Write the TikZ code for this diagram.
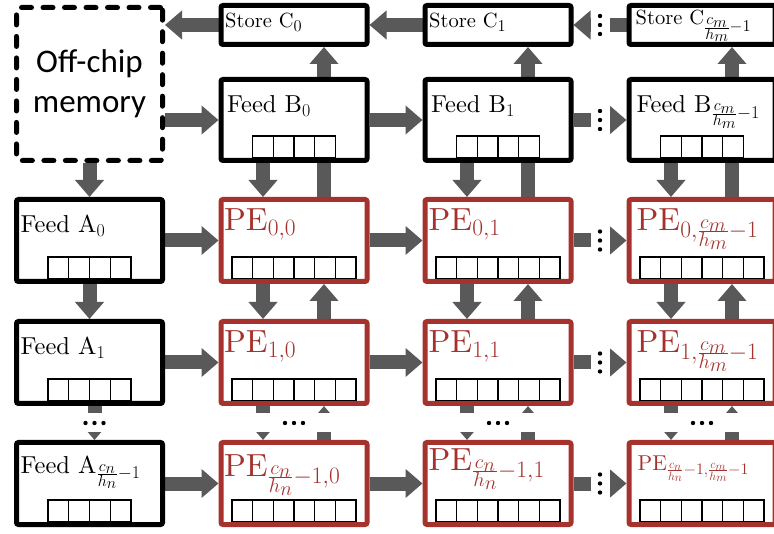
\RequirePackage{fix-cm}
\documentclass[tikz,border=0pt]{standalone}
\usepackage{fontspec}
\setmainfont{lmroman10-regular.otf}
\newfontfamily\chipfont{Carlito}
\usetikzlibrary{arrows.meta,backgrounds,calc}

\definecolor{flowgray}{RGB}{89,89,89}
\definecolor{pered}{RGB}{166,50,46}

\DeclareMathSizes{20.5}{20.5}{16.5}{16}
\DeclareMathSizes{24.5}{24.5}{18}{16}
\DeclareMathSizes{32}{32}{23.5}{20}
\DeclareMathSizes{21.5}{21.5}{16}{12}
\newcommand{\storefont}{\fontsize{20.5}{24}\selectfont}
\newcommand{\feedfont}{\fontsize{24.5}{29}\selectfont}
\newcommand{\pefont}{\fontsize{32}{38}\selectfont}
\newcommand{\lastm}{\frac{c_m}{h_m}-1}
\newcommand{\lastn}{\frac{c_n}{h_n}-1}

% row of register cells above the bottom of a box
\newcommand{\regcells}[2]{%
  \foreach \k in {1,...,#2}
    \draw[regline] ([xshift={(\k-1-#2/2)*20.7pt},yshift=5.5pt]#1.south) rectangle ++(20.7pt,21.5pt);
}

\tikzset{
  unit/.style={draw=black, line width=5pt, fill=white, rounded corners=2pt,
    minimum width=146pt, inner sep=0pt},
  peunit/.style={unit, draw=pered},
  memunit/.style={unit, dash pattern=on 10pt off 11.5pt, line cap=round},
  flow/.style={draw=flowgray, line width=14pt, -{Triangle[length=17pt,width=28pt]}},
  gapband/.style={fill=white, inner sep=0pt},
  lbl/.style={anchor=base west, inner sep=0pt},
  regline/.style={line width=1.3pt},
}

\begin{document}
\begin{tikzpicture}[x=1pt,y=-1pt]
\useasboundingbox (0,0) rectangle (774,534);
\clip (0,0) rectangle (774,534);

% memory
\node[memunit, minimum height=153pt, align=center,
  font={\chipfont\fontsize{33}{40}\selectfont}] (mem) at (89.5,84) {Off-chip\\memory};

% store C and feed B rows
\foreach \c/\x in {0/294,1/498,2/702}{
  \node[unit, minimum height=39pt] (C\c) at (\x,25) {};
  \node[unit, minimum height=81pt] (B\c) at (\x,120) {};
}
% feed A column and PE grid
\foreach \r/\y in {0/240.5,1/362.5,2/483.5}{
  \node[unit, minimum height=82pt] (A\r) at (89.5,\y) {};
  \foreach \c/\x in {0/294,1/498,2/702}
    \node[peunit, minimum height=82pt] (P\r\c) at (\x,\y) {};
}

% labels
\node[lbl, font=\storefont] (tC0) at ([xshift=6.5pt,yshift=-24.5pt]C0.north west) {Store C$_0$};
\node[lbl, font=\storefont] (tC1) at ([xshift=6.5pt,yshift=-24.5pt]C1.north west) {Store C$_1$};
\node[lbl, font=\storefont] (tC2) at ([xshift=9pt,yshift=-22pt]C2.north west) {Store C$_{\lastm}$};
\node[lbl, font=\feedfont] (tB0) at ([xshift=8.5pt,yshift=-35.5pt]B0.north west) {Feed B$_0$};
\node[lbl, font=\feedfont] (tB1) at ([xshift=8.5pt,yshift=-35.5pt]B1.north west) {Feed B$_1$};
\node[lbl, font=\feedfont] (tB2) at ([xshift=10pt,yshift=-35.5pt]B2.north west) {Feed B$_{\lastm}$};
\node[lbl, font=\feedfont] (tA0) at ([xshift=6.5pt,yshift=-35.5pt]A0.north west) {Feed A$_0$};
\node[lbl, font=\feedfont] (tA1) at ([xshift=6.5pt,yshift=-35.5pt]A1.north west) {Feed A$_1$};
\node[lbl, font=\feedfont] (tA2) at ([xshift=6.5pt,yshift=-33pt]A2.north west) {Feed A$_{\lastn}$};
\node[lbl, font=\pefont, text=pered] (tP00) at ([xshift=5.5pt,yshift=-33.5pt]P00.north west) {PE$_{0,0}$};
\node[lbl, font=\pefont, text=pered] (tP01) at ([xshift=6pt,yshift=-33.5pt]P01.north west) {PE$_{0,1}$};
\node[lbl, font=\pefont, text=pered] (tP02) at ([xshift=10pt,yshift=-33.5pt]P02.north west) {PE$_{0,\lastm}$};
\node[lbl, font=\pefont, text=pered] (tP10) at ([xshift=5.5pt,yshift=-33.5pt]P10.north west) {PE$_{1,0}$};
\node[lbl, font=\pefont, text=pered] (tP11) at ([xshift=6pt,yshift=-33.5pt]P11.north west) {PE$_{1,1}$};
\node[lbl, font=\pefont, text=pered] (tP12) at ([xshift=10pt,yshift=-33.5pt]P12.north west) {PE$_{1,\lastm}$};
\node[lbl, font=\pefont, text=pered] (tP20) at ([xshift=5.5pt,yshift=-36.5pt]P20.north west) {PE$_{\lastn,0}$};
\node[lbl, font=\pefont, text=pered] (tP21) at ([xshift=6pt,yshift=-30.5pt]P21.north west) {PE$_{\lastn,1}$};
\node[lbl, font={\fontsize{21.5}{26}\selectfont}, text=pered] (tP22) at ([xshift=11pt,yshift=-30.5pt]P22.north west) {PE$_{\lastn,\lastm}$};

% register cells
\foreach \n in {B0,B1,B2,A0,A1,A2}{
  \regcells{\n}{4}
}
\foreach \r in {0,1,2}{
  \foreach \c in {0,1,2}{
    \regcells{P\r\c}{6}
  }
}

% data movement
\begin{scope}[on background layer]
\draw[flow] (C0.west) -- (C0.west -| mem.east);
\draw[flow] (C1.west) -- (C0.east);
\draw[flow] (C2.west) -- (C1.east);
\draw[flow] (B0.west -| mem.east) -- (B0.west);
\draw[flow] (B0.east) -- (B1.west);
\draw[flow] (B1.east) -- (B2.west);
\draw[flow] (mem.south) -- (A0.north);
\foreach \c in {0,1,2}{
  \draw[flow] ([xshift=-31pt]B\c.south) -- ([xshift=-31pt]P0\c.north);
  \draw[flow] ([xshift=30pt]P0\c.north) -- ([xshift=30pt]C\c.south);
}
\foreach \r in {0,1,2}{
  \draw[flow] (A\r.east) -- (P\r0.west);
  \draw[flow] (P\r0.east) -- (P\r1.west);
  \draw[flow] (P\r1.east) -- (P\r2.west);
}
\draw[flow] (A0.south) -- (A1.north);
\draw[flow] ([xshift=5pt]A1.south) -- ([xshift=5pt]A2.north);
\foreach \r/\s in {0/1,1/2}
  \foreach \c in {0,1,2}{
    \draw[flow] ([xshift=-31pt]P\r\c.south) -- ([xshift=-31pt]P\s\c.north);
    \draw[flow] ([xshift=30pt]P\s\c.north) -- ([xshift=30pt]P\r\c.south);
  }
\end{scope}

% gaps with dots
\foreach \n/\a/\b in {C/C1/C2,B/B1/B2,0/P01/P02,1/P11/P12,2/P21/P22}{
  \node[gapband, minimum width=19pt, minimum height=30pt] (hg\n) at ($(\a.east)!0.5!(\b.west)$) {};
  \foreach \d in {-9,0,9}
    \fill ([yshift=\d pt]hg\n.center) circle (2.2pt);
}
\node[gapband, minimum width=40pt, minimum height=19pt] (vgA) at ($([xshift=5pt]A1.south)!0.5!([xshift=5pt]A2.north)$) {};
\foreach \c in {0,1,2}
  \node[gapband, minimum width=110pt, minimum height=19pt] (vg\c) at ($(P1\c.south)!0.5!(P2\c.north)$) {};
\foreach \n in {A,0,1,2}
  \foreach \d in {-9,0,9}
    \fill ([xshift=\d pt]vg\n.center) circle (2.2pt);
\end{tikzpicture}
\end{document}
